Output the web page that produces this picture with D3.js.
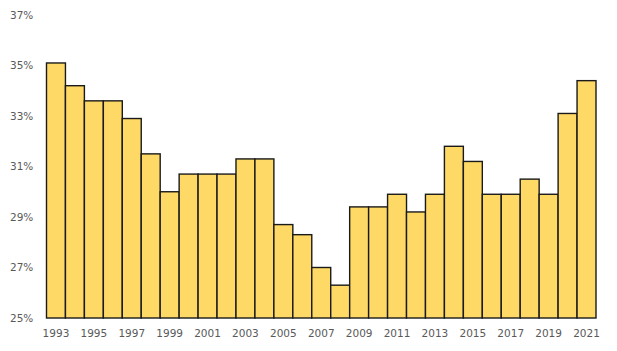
<!DOCTYPE html>
<html>
<head>
<meta charset="utf-8">
<script src="https://cdn.jsdelivr.net/npm/d3@7"></script>
<style>
  body { margin: 0; background: #fff; }
  text { font-family: "DejaVu Sans", Verdana, sans-serif; font-size: 10.5px; fill: #595959; }
</style>
</head>
<body>
<div id="chart"></div>
<script>
const years = d3.range(1993, 2022);
const values = [35.1, 34.2, 33.6, 33.6, 32.9, 31.5, 30.0, 30.7, 30.7, 30.7,
  31.3, 31.3, 28.7, 28.3, 27.0, 26.3, 29.4, 29.4, 29.9, 29.2,
  29.9, 31.8, 31.2, 29.9, 29.9, 30.5, 29.9, 33.1, 34.4];
const yTicks = [25, 27, 29, 31, 33, 35, 37];

const width = 617, height = 351;

const svg = d3.select("#chart").append("svg")
  .attr("width", width)
  .attr("height", height);

const x = d3.scaleBand().domain(years).range([46.5, 596]).padding(0);
const y = d3.scaleLinear().domain([25, 37]).range([318, 15]);

// bars
svg.append("g")
  .selectAll("rect")
  .data(years)
  .enter()
  .append("rect")
  .attr("x", (d) => x(d))
  .attr("y", (d, i) => y(values[i]))
  .attr("width", x.bandwidth())
  .attr("height", (d, i) => y(25) - y(values[i]))
  .style("fill", "#FFD966")
  .style("stroke", "#1a1a1a")
  .style("stroke-width", 1.4);

// y labels
svg.append("g")
  .selectAll("text")
  .data(yTicks)
  .enter()
  .append("text")
  .attr("x", 10)
  .attr("y", (d) => y(d))
  .attr("dy", "0.35em")
  .text((d) => d + "%");

// x labels
svg.append("g")
  .selectAll("text")
  .data(years.filter((d) => d % 2 === 1))
  .enter()
  .append("text")
  .attr("x", (d) => x(d) + x.bandwidth() / 2)
  .attr("y", 337)
  .attr("text-anchor", "middle")
  .text((d) => d);
</script>
</body>
</html>
